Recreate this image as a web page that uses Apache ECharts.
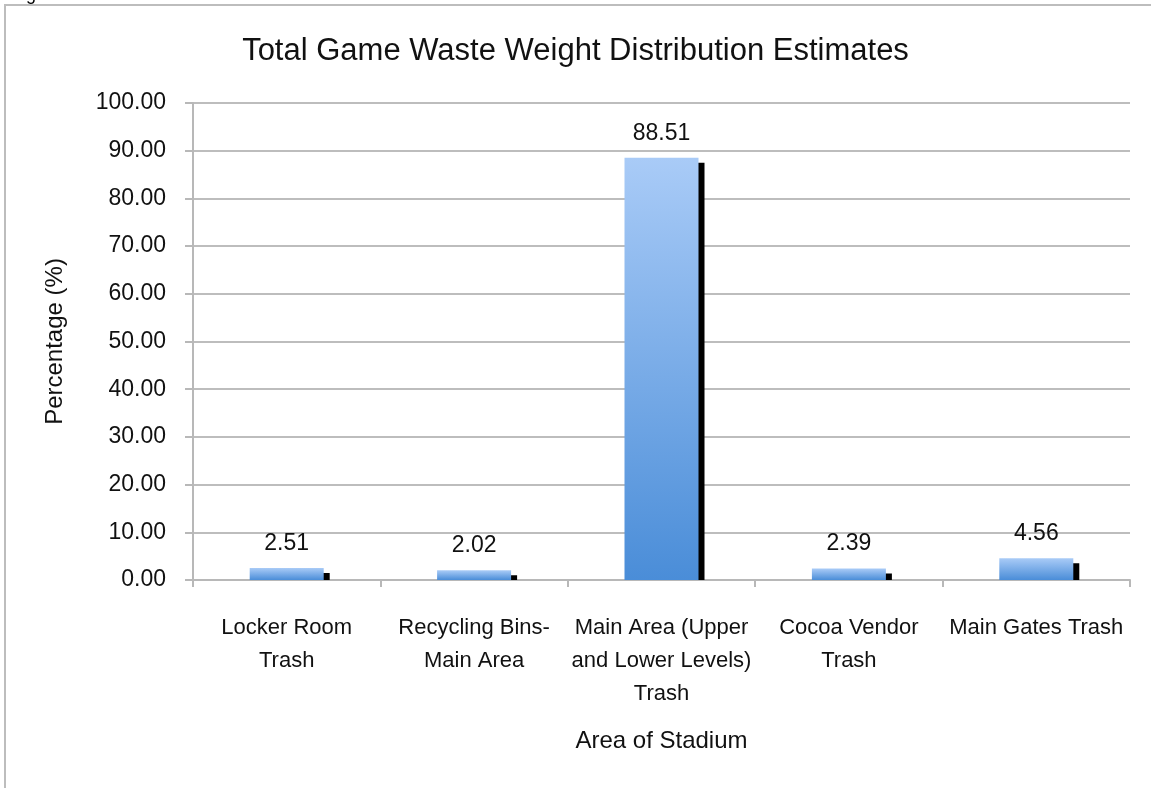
<!DOCTYPE html>
<html>
<head>
<meta charset="utf-8">
<script src="https://cdn.jsdelivr.net/npm/echarts@6/dist/echarts.min.js"></script>
<style>
html,body{margin:0;padding:0;background:#fff;}
#c{width:1151px;height:788px;}
</style>
</head>
<body>
<div id="c"></div>
<script>
const categories = ['Locker Room\nTrash', 'Recycling Bins-\nMain Area', 'Main Area (Upper\nand Lower Levels)\nTrash', 'Cocoa Vendor\nTrash', 'Main Gates Trash'];
const values = [2.51, 2.02, 88.51, 2.39, 4.56];
const yTicks = [0, 10, 20, 30, 40, 50, 60, 70, 80, 90, 100];

const FONT = '"Liberation Sans", Arial, sans-serif';
const BAR_W = 74;
const chart = echarts.init(document.getElementById('c'));
chart.setOption({
  animation: false,
  backgroundColor: '#fff',
  graphic: [
    { type: 'rect', shape: { x: 5, y: 5, width: 1160, height: 800 }, style: { fill: 'none', stroke: '#bdbdbd', lineWidth: 2 }, z: -1 },
    { type: 'text', left: 26, top: -14, style: { text: 'g', font: '18px ' + FONT, fill: '#000' } }
  ],
  title: {
    text: 'Total Game Waste Weight Distribution Estimates',
    left: 'center',
    top: 31,
    textStyle: { fontFamily: FONT, fontSize: 31, fontWeight: 'normal', color: '#111' }
  },
  grid: { left: 193, right: 21, top: 103, bottom: 208 },
  xAxis: {
    type: 'category',
    data: categories,
    name: 'Area of Stadium',
    nameLocation: 'middle',
    nameGap: 149,
    nameTextStyle: { fontFamily: FONT, fontSize: 24, color: '#111' },
    axisLine: { lineStyle: { color: '#b8b8b8', width: 2 } },
    axisTick: { show: true, length: 7, lineStyle: { color: '#b8b8b8', width: 2 } },
    axisLabel: { fontFamily: FONT, fontSize: 22, color: '#111', margin: 31, lineHeight: 33, interval: 0 }
  },
  yAxis: {
    type: 'value',
    min: 0, max: 100, interval: 10,
    name: 'Percentage (%)',
    nameLocation: 'middle',
    nameGap: 126,
    nameRotate: 90,
    nameTextStyle: { fontFamily: FONT, fontSize: 24, color: '#111' },
    axisLine: { show: true, lineStyle: { color: '#b8b8b8', width: 2 } },
    axisTick: { show: true, length: 8, lineStyle: { color: '#b8b8b8', width: 2 } },
    splitLine: { lineStyle: { color: '#bdbdbd', width: 2 } },
    axisLabel: {
      fontFamily: FONT, fontSize: 23, color: '#111', margin: 27,
      formatter: v => yTicks.includes(v) ? v.toFixed(2) : ''
    }
  },
  series: [{
    type: 'custom',
    z: 1,
    silent: true,
    data: values.map((v, i) => [i, v]),
    renderItem: function (params, api) {
      const top = api.coord([api.value(0), api.value(1)]);
      const base = api.coord([api.value(0), 0]);
      const y = top[1] + 5;
      return {
        type: 'rect',
        shape: { x: top[0] - BAR_W / 2 + 6, y: y, width: BAR_W, height: Math.max(0, base[1] - y) },
        style: { fill: '#000' }
      };
    }
  }, {
    type: 'bar',
    z: 2,
    data: values,
    barWidth: BAR_W,
    itemStyle: {
      color: new echarts.graphic.LinearGradient(0, 0, 0, 1, [
        { offset: 0, color: '#a9cbf7' },
        { offset: 1, color: '#4a8dd8' }
      ])
    },
    label: {
      show: true,
      position: 'top',
      distance: 13,
      fontFamily: FONT,
      fontSize: 23,
      color: '#111',
      formatter: p => p.value.toFixed(2)
    }
  }]
});
</script>
</body>
</html>
